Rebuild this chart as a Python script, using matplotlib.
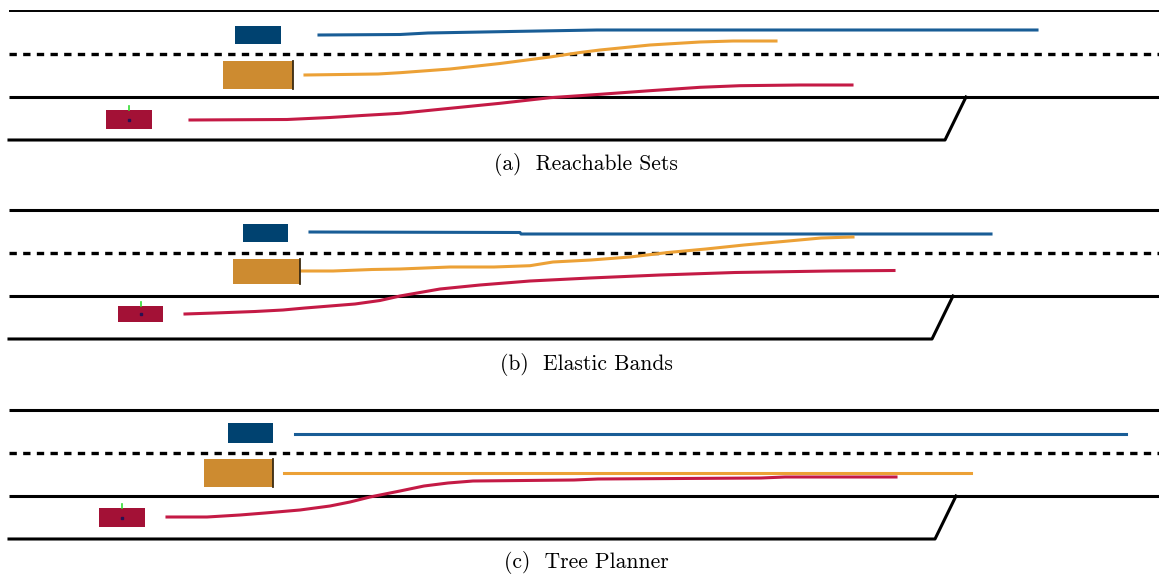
import matplotlib.pyplot as plt
from matplotlib.patches import Rectangle

# panel layout (pixel coords, y grows downward)
panel_top = [11, 210, 410]
captions = ['(a)  Reachable Sets', '(b)  Elastic Bands', '(c)  Tree Planner']
caption_y = [165, 364, 563]
merge_x = [945, 932, 935]     # where the on-ramp bottom edge bends up

# vehicles per panel: (x0, y0, x1, y1)
blue_car = [(235, 26, 281, 44), (243, 224, 288, 242), (228, 423, 273, 443)]
orange_car = [(223, 61, 293, 89), (233, 259, 300, 284), (204, 459, 273, 487)]
red_car = [(106, 110, 152, 129), (118, 306, 163, 322), (99, 508, 145, 527)]

# planned trajectories
blue_x = [[319, 400, 428, 510, 597, 1037],
          [310, 520, 521, 991],
          [295, 1126]]
blue_y = [[35, 34.5, 33, 31.5, 30, 30],
          [232, 232.5, 234, 234],
          [434, 434]]
orange_x = [[305, 378, 400, 450, 500, 550, 580, 600, 650, 700, 733, 776],
            [300, 333, 372, 400, 450, 494, 530, 553, 591, 630, 668, 706, 744, 783, 821, 853],
            [284, 971]]
orange_y = [[75, 74, 72.7, 69, 63.5, 57, 52.5, 50, 45, 42, 41, 41],
            [271, 271, 269.5, 269, 267, 267, 265.7, 262, 260, 257, 252.5, 249, 245, 241.5, 238, 237],
            [473, 473]]
red_x = [[190, 287, 330, 362, 400, 450, 500, 550, 600, 650, 700, 740, 800, 852],
         [185, 215, 255, 283, 305, 330, 355, 380, 400, 440, 480, 530, 590, 660, 735, 830, 894],
         [167, 207, 240, 265, 300, 330, 350, 370, 400, 424, 448, 473, 574, 598, 761, 785, 896]]
red_y = [[120, 119.5, 117.5, 115.5, 113.3, 108.3, 103.3, 97.7, 94.3, 90.7, 87.3, 85.7, 85, 85],
         [314, 313, 311.5, 310, 308, 306, 304, 300.5, 296, 289, 285, 281, 278, 275, 272.5, 271, 270.5],
         [517, 517, 515, 513, 510, 506, 502, 497, 491, 486, 483, 481, 480, 479, 478, 477, 477]]

fig = plt.figure(figsize=(11.59, 5.74), dpi=100)
ax = fig.add_axes([0, 0, 1, 1])
ax.set_xlim(0, 1159)
ax.set_ylim(574, 0)
ax.axis('off')

for i in range(3):
    t = panel_top[i]
    dash = t + 43
    solid = t + 86
    bottom = t + 129
    ax.plot([9, 1159], [t, t], color='black', lw=2.2 if i else 1.4, solid_capstyle='butt')
    ax.plot([9, 1159], [dash, dash], color='black', lw=2.4, linestyle=(0, (2.2, 1.9)))
    ax.plot([9, 1159], [solid, solid], color='black', lw=2.2, solid_capstyle='butt')
    ax.plot([9, merge_x[i], merge_x[i] + 21], [bottom, bottom, solid], color='black', lw=2.2)

    # vehicles
    for box, col in [(blue_car[i], '#004270'), (orange_car[i], '#cd8b30'), (red_car[i], '#a31136')]:
        x0, y0, x1, y1 = box
        ax.add_patch(Rectangle((x0, y0), x1 - x0, y1 - y0, facecolor=col, edgecolor='none', zorder=3))
    ox0, oy0, ox1, oy1 = orange_car[i]
    ax.plot([ox1, ox1], [oy0, oy1], color='#3a2a10', lw=1.3, zorder=4)
    rx0, ry0, rx1, ry1 = red_car[i]
    cx = (rx0 + rx1) / 2
    ax.plot([cx, cx], [ry0 - 4, ry0], color='#33dd33', lw=1.2, zorder=4)
    ax.plot(cx, (ry0 + ry1) / 2, marker='s', ms=1.5, color='#2a1050', zorder=4)

    # trajectories
    ax.plot(blue_x[i], blue_y[i], color='#195d96', lw=2.2, zorder=2)
    ax.plot(orange_x[i], orange_y[i], color='#eca136', lw=2.2, zorder=2)
    ax.plot(red_x[i], red_y[i], color='#c41a45', lw=2.2, zorder=2)

    ax.text(586, caption_y[i], captions[i], ha='center', va='center',
            fontsize=15.5, family=['cmr10', 'DejaVu Serif'])

plt.savefig('out.png', dpi=100)
